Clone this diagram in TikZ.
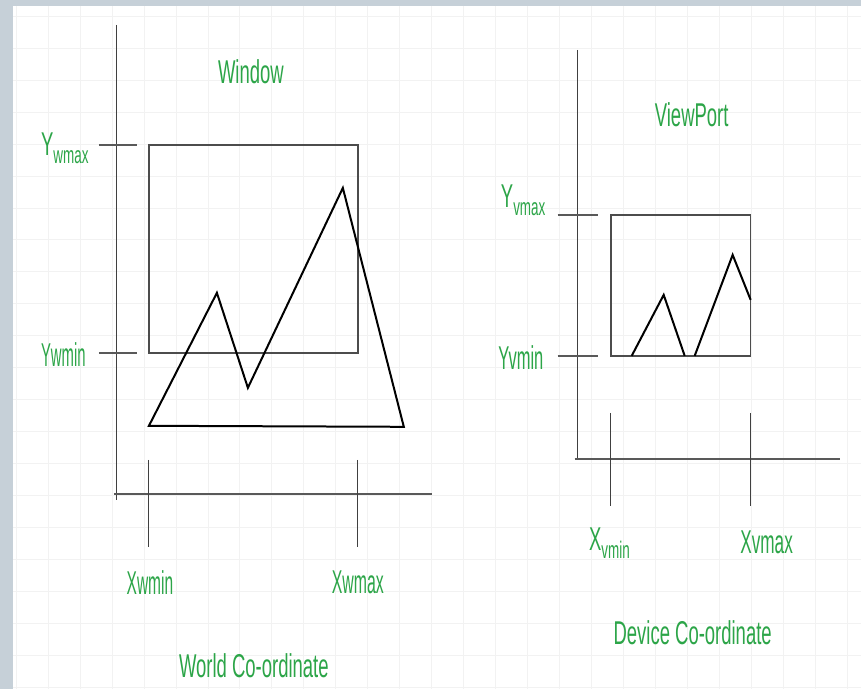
\documentclass[tikz,border=0pt]{standalone}
\usepackage{fontspec}
\setmainfont{Liberation Sans}
\definecolor{lblgreen}{RGB}{44,165,72}
\definecolor{frame}{RGB}{198,208,216}
\newcommand{\nar}[2][0.56]{\scalebox{#1}[1]{#2}}
\newcommand{\sub}[2]{\nar{#1\raisebox{-0.45ex}{\fontsize{12}{12}\selectfont #2}}}

\begin{document}
\begin{tikzpicture}[x=0.5pt,y=-0.5pt,
		lbl/.style={text=lblgreen,font=\fontsize{16.5}{18}\selectfont,inner sep=0pt},
		axis/.style={draw=black!75,line width=0.5pt},
		baseaxis/.style={draw=black!65,line width=1.1pt},
		tickmark/.style={draw=black!65,line width=1pt},
		port/.style={draw=black!70,line width=0.8pt},
		graph/.style={draw=black,line width=1pt,line join=miter}]
		% page
		\fill[frame] (0,0) rectangle (861,689);
		\fill[white] (13,6) rectangle (861,689);
		\foreach \gx in {16,48,...,861} \draw[black!5] (\gx,6) -- (\gx,689);
		\foreach \gy in {16,48,...,689} \draw[black!5] (13,\gy) -- (861,\gy);

		% world co-ordinate
		\coordinate (WA1) at (117,25);   \coordinate (WA2) at (117,500);
		\coordinate (WB1) at (114,494);  \coordinate (WB2) at (432,494);
		\coordinate (WW1) at (149,145);  \coordinate (WW2) at (358,353);
		\coordinate (WTy1) at (99,145);  \coordinate (WTy1e) at (137,145);
		\coordinate (WTy2) at (99,353);  \coordinate (WTy2e) at (137,353);
		\coordinate (WTx1) at (149,460); \coordinate (WTx1e) at (149,547);
		\coordinate (WTx2) at (358,460); \coordinate (WTx2e) at (358,547);
		\coordinate (P1) at (149,426); \coordinate (P2) at (217,293);
		\coordinate (P3) at (248,388); \coordinate (P4) at (343,188);
		\coordinate (P5) at (404,427);

		\draw[axis] (WA1) -- (WA2);
		\draw[baseaxis] (WB1) -- (WB2);
		\draw[port] (WW1) rectangle (WW2);
		\draw[tickmark] (WTy1) -- (WTy1e);
		\draw[tickmark] (WTy2) -- (WTy2e);
		\draw[axis] (WTx1) -- (WTx1e);
		\draw[axis] (WTx2) -- (WTx2e);
		\draw[graph] (P1) -- (P2) -- (P3) -- (P4) -- (P5) -- cycle;

		\node[lbl] (win) at (251,72) {\nar{Window}};
		\node[lbl,anchor=base east] (ywmax) at (89,156) {\sub{Y}{wmax}};
		\node[lbl,anchor=east] (ywmin) at (86,355) {\nar[0.45]{Ywmin}};
		\node[lbl] (xwmin) at (150,583) {\nar[0.47]{Xwmin}};
		\node[lbl] (xwmax) at (358,583) {\nar[0.48]{Xwmax}};
		\node[lbl] (world) at (254,666) {\nar{World Co-ordinate}};

		% device co-ordinate
		\coordinate (DA1) at (578,50);   \coordinate (DA2) at (578,460);
		\coordinate (DB1) at (575,459);  \coordinate (DB2) at (840,459);
		\coordinate (VP1) at (611,215);  \coordinate (VP2) at (751,356);
		\coordinate (DTy1) at (558,215); \coordinate (DTy1e) at (598,215);
		\coordinate (DTy2) at (558,356); \coordinate (DTy2e) at (598,356);
		\coordinate (DTx1) at (611,413); \coordinate (DTx1e) at (611,506);
		\coordinate (DTx2) at (751,413); \coordinate (DTx2e) at (751,506);
		\coordinate (Q1) at (632,356); \coordinate (Q2) at (664,295);
		\coordinate (Q3) at (685,356); \coordinate (Q4) at (695,356);
		\coordinate (Q5) at (733,255); \coordinate (Q6) at (751,300);

		\draw[axis] (DA1) -- (DA2);
		\draw[baseaxis] (DB1) -- (DB2);
		\draw[port] (VP1) rectangle (VP2);
		\draw[tickmark] (DTy1) -- (DTy1e);
		\draw[tickmark] (DTy2) -- (DTy2e);
		\draw[axis] (DTx1) -- (DTx1e);
		\draw[axis] (DTx2) -- (DTx2e);
		\draw[graph] (Q1) -- (Q2) -- (Q3);
		\draw[graph] (Q4) -- (Q5) -- (Q6);

		\node[lbl] (vport) at (692,115) {\nar{ViewPort}};
		\node[lbl,anchor=base east] (yvmax) at (546,208) {\sub{Y}{vmax}};
		\node[lbl,anchor=east] (yvmin) at (544,358) {\nar[0.5]{Yvmin}};
		\node[lbl,anchor=base west] (xvmin) at (589,551) {\sub{X}{vmin}};
		\node[lbl] (xvmax) at (767,543) {\nar[0.52]{Xvmax}};
		\node[lbl] (device) at (693,633) {\nar{Device Co-ordinate}};
	\end{tikzpicture}
\end{document}
